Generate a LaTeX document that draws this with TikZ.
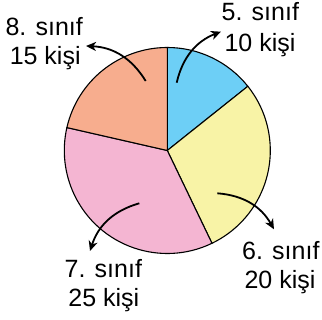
\documentclass[tikz,border=0pt]{standalone}
\usepackage{fontspec}
\setmainfont{Liberation Sans}
\usetikzlibrary{arrows.meta}
\definecolor{c5}{HTML}{6DCFF6}
\definecolor{c6}{HTML}{F8F3A6}
\definecolor{c7}{HTML}{F4B5D2}
\definecolor{c8}{HTML}{F7AD8E}
\tikzset{
  wedge/.style={draw=black, line width=1.1pt, line join=round},
  lbl/.style={inner sep=0pt, anchor=base, font=\fontsize{25}{30}\selectfont},
  pointer/.style={line width=1.8pt, -{Stealth[length=10pt,width=9pt,inset=3pt]}}
}
\begin{document}
\begin{tikzpicture}[x=1pt,y=1pt]
\useasboundingbox (0,0) rectangle (322,320);
\coordinate (C) at (167.3,169.5);
\def\R{103}
% wedges
\filldraw[wedge, fill=c5] (C) -- ++(90:\R) arc[start angle=90, end angle=38.57, radius=\R] -- cycle;
\filldraw[wedge, fill=c6] (C) -- ++(38.57:\R) arc[start angle=38.57, end angle=-64.29, radius=\R] -- cycle;
\filldraw[wedge, fill=c7] (C) -- ++(-64.29:\R) arc[start angle=-64.29, end angle=-192.86, radius=\R] -- cycle;
\filldraw[wedge, fill=c8] (C) -- ++(167.14:\R) arc[start angle=167.14, end angle=90, radius=\R] -- cycle;
% labels
\node[lbl] (l5a) at (260.3,299.3) {5. sınıf};
\node[lbl] (l5b) at (260,268.3) {10 kişi};
\node[lbl] (l8a) at (44.2,284.3) {8. sınıf};
\node[lbl] (l8b) at (45.2,255) {15 kişi};
\node[lbl] (l6a) at (280.8,60.7) {6. sınıf};
\node[lbl] (l6b) at (280,31.3) {20 kişi};
\node[lbl] (l7a) at (103.3,42.7) {7. sınıf};
\node[lbl] (l7b) at (103.8,13.3) {25 kişi};
% arrows
\coordinate (s5) at (176.7,237.3); \coordinate (e5) at (221,288.3);
\coordinate (s8) at (145.7,239);   \coordinate (e8) at (86,274);
\coordinate (s6) at (217.3,126.7); \coordinate (e6) at (274,90.7);
\coordinate (s7) at (139.3,116.7); \coordinate (e7) at (90,69);
\draw[pointer] (s5) to[bend left=28] (e5);
\draw[pointer] (s8) to[bend right=28] (e8);
\draw[pointer] (s6) to[bend left=28] (e6);
\draw[pointer] (s7) to[bend right=28] (e7);
\end{tikzpicture}
\end{document}
